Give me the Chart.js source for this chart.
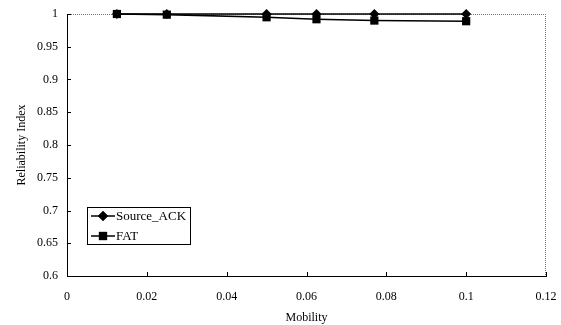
<!DOCTYPE html>
<html>
<head>
<meta charset="utf-8">
<script src="https://cdn.jsdelivr.net/npm/chart.js@4/dist/chart.umd.min.js"></script>
<style>
  html, body { margin: 0; padding: 0; background: #fff; }
  #wrap { width: 561px; height: 325px; }
</style>
</head>
<body>
<div id="wrap"><canvas id="chart" width="561" height="325"></canvas></div>
<script>
// ─── DATA ─────────────────────────────────────────────────
const mobility = [0.0125, 0.025, 0.05, 0.0625, 0.077, 0.1];
const sourceAck = [1, 1, 1, 1, 1, 1];
const fat = [1, 0.999, 0.995, 0.992, 0.990, 0.989];
const xTicks = [0, 0.02, 0.04, 0.06, 0.08, 0.1, 0.12];
const yTicks = [0.6, 0.65, 0.7, 0.75, 0.8, 0.85, 0.9, 0.95, 1];
const seriesNames = ['Source_ACK', 'FAT'];

const FONT = { family: 'Liberation Serif', size: 12 };

const toPoints = ys => mobility.map((x, i) => ({ x, y: ys[i] }));

// keep the plot box where the reference has it
function noOverhang(s) {
    s.paddingLeft = 0; s.paddingRight = 0; s.paddingTop = 0; s.paddingBottom = 0;
}

// frame: dotted top/right, inward tick marks, legend box
const framePlugin = {
    id: 'frame',
    beforeDatasetsDraw(chart) {
        const { ctx, chartArea: a, scales: { x, y } } = chart;
        ctx.save();
        ctx.strokeStyle = '#777';
        ctx.lineWidth = 1;
        ctx.setLineDash([1, 1]);
        ctx.beginPath();
        ctx.moveTo(a.left, a.top + 0.5); ctx.lineTo(a.right, a.top + 0.5);
        ctx.moveTo(a.right - 0.5, a.top); ctx.lineTo(a.right - 0.5, a.bottom);
        ctx.stroke();
        ctx.setLineDash([]);
        ctx.strokeStyle = '#000';
        ctx.beginPath();
        yTicks.forEach(v => {
            const py = Math.round(y.getPixelForValue(v)) + 0.5;
            ctx.moveTo(a.left, py); ctx.lineTo(a.left + 4, py);
        });
        xTicks.forEach(v => {
            const px = Math.round(x.getPixelForValue(v)) + 0.5;
            ctx.moveTo(px, a.bottom); ctx.lineTo(px, a.bottom - 4);
        });
        ctx.stroke();
        ctx.restore();
    },
    afterDatasetsDraw(chart) {
        const { ctx } = chart;
        ctx.save();
        // legend
        const bx = 87.5, by = 207.5, bw = 103, bh = 37;
        ctx.fillStyle = '#fff';
        ctx.strokeStyle = '#000';
        ctx.lineWidth = 1;
        ctx.fillRect(bx, by, bw, bh);
        ctx.strokeRect(bx, by, bw, bh);
        ctx.font = FONT.size + 1 + 'px ' + FONT.family;
        ctx.textBaseline = 'middle';
        chart.data.datasets.forEach((ds, i) => {
            const ry = 216 + i * 20;
            ctx.strokeStyle = '#000';
            ctx.lineWidth = 1.5;
            ctx.beginPath();
            ctx.moveTo(91, ry); ctx.lineTo(115, ry);
            ctx.stroke();
            ctx.fillStyle = '#000';
            Chart.helpers.drawPoint(ctx, { pointStyle: ds.pointStyle, radius: ds.pointRadius, borderWidth: 0, rotation: 0 }, 103, ry);
            ctx.fill();
            ctx.fillText(ds.label, 116, ry + 1);
        });
        ctx.restore();
    }
};

new Chart(document.getElementById('chart'), {
    type: 'scatter',
    data: {
        datasets: [
            { label: seriesNames[0], data: toPoints(sourceAck), showLine: true, borderColor: '#000', backgroundColor: '#000',
              borderWidth: 1.6, pointStyle: 'rectRot', pointRadius: 5, pointBorderWidth: 0, clip: false },
            { label: seriesNames[1], data: toPoints(fat), showLine: true, borderColor: '#000', backgroundColor: '#000',
              borderWidth: 1.6, pointStyle: 'rect', pointRadius: 5.8, pointBorderWidth: 0, clip: false },
        ]
    },
    options: {
        responsive: false, animation: false,
        layout: { padding: { top: 14, right: 15, left: 0, bottom: 0 } },
        plugins: { legend: { display: false }, tooltip: { enabled: false } },
        scales: {
            x: {
                type: 'linear', min: 0, max: 0.12,
                afterBuildTicks: s => { s.ticks = xTicks.map(v => ({ value: v })); },
                afterFit: s => { s.height = 49; noOverhang(s); },
                grid: { display: false, drawTicks: false },
                border: { color: '#000', width: 1 },
                ticks: { color: '#000', font: FONT, padding: 14, maxRotation: 0, callback: v => String(v) },
                title: { display: true, text: 'Mobility', color: '#000', font: FONT, padding: { top: 0, bottom: 0 } }
            },
            y: {
                min: 0.6, max: 1,
                afterBuildTicks: s => { s.ticks = yTicks.map(v => ({ value: v })); },
                afterFit: s => { s.width = 67; noOverhang(s); },
                grid: { display: false, drawTicks: false },
                border: { color: '#000', width: 1 },
                ticks: { color: '#000', font: FONT, padding: 9, callback: v => String(v) },
                title: { display: true, text: 'Reliability Index', color: '#000', font: FONT, padding: { top: 15, bottom: 0 } }
            }
        }
    },
    plugins: [framePlugin]
});
</script>
</body>
</html>
